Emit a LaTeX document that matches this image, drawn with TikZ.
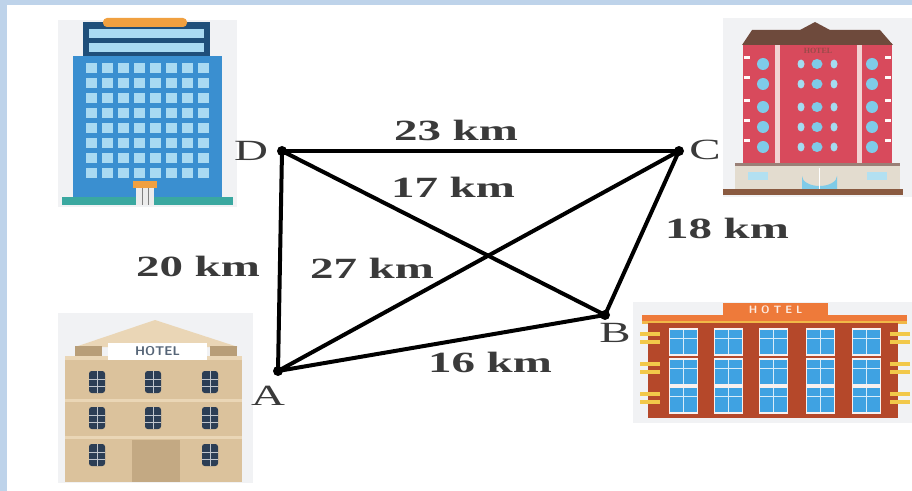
\documentclass[tikz,border=0pt]{standalone}
\usepackage{fontspec}
\setmainfont{Liberation Serif}
\usetikzlibrary{calc}
\definecolor{frameblue}{HTML}{BED3EA}
\definecolor{panel}{HTML}{F1F2F4}
\definecolor{txt}{HTML}{3A3A3A}
% tower
\definecolor{towerblue}{HTML}{3A8FD0}
\definecolor{towernavy}{HTML}{1F4F7A}
\definecolor{towerwin}{HTML}{A9DAF2}
\definecolor{towerteal}{HTML}{3AA8A0}
\definecolor{signorange}{HTML}{F0A040}
% red hotel
\definecolor{redwall}{HTML}{D84A5C}
\definecolor{roofbrown}{HTML}{6E4A3C}
\definecolor{pilaster}{HTML}{F2D2D2}
\definecolor{glass}{HTML}{7FCBE8}
\definecolor{basecream}{HTML}{E3DCCF}
\definecolor{ground}{HTML}{8A5A40}
% beige hotel
\definecolor{tan}{HTML}{DBC29C}
\definecolor{tanlight}{HTML}{EAD6B6}
\definecolor{tandark}{HTML}{B89E78}
\definecolor{winnavy}{HTML}{2C3E55}
% brick hotel
\definecolor{brick}{HTML}{B5482A}
\definecolor{brickorange}{HTML}{EE7A3A}
\definecolor{brickwin}{HTML}{3FA2E2}
\definecolor{balcony}{HTML}{F2C84A}
\tikzset{
  edge/.style={line width=3pt, line cap=round},
  vertex/.style={circle, fill=black, inner sep=0pt, minimum size=7.5pt},
  dist/.style={text=txt, font=\fontsize{22}{24}\selectfont\bfseries, xscale=1.6, inner sep=0pt},
  letter/.style={text=txt, font=\fontsize{22}{24}\selectfont, xscale=1.6, inner sep=0pt},
}
\begin{document}
\begin{tikzpicture}[x=0.75pt, y=-0.75pt]
\useasboundingbox (0,0) rectangle (912,491);
\fill[white] (0,0) rectangle (912,491);
% frame
\fill[frameblue] (0,0) rectangle (912,5);
\fill[frameblue] (0,0) rectangle (7,491);

% ---------- blue office tower ----------
\fill[panel] (58,20) rectangle (237,207);
\fill[towernavy] (83,22) rectangle (210,57);
\fill[towerwin] (89,29) rectangle (204,38);
\fill[towerwin] (89,43) rectangle (204,52);
\fill[signorange, rounded corners=3pt] (103,18) rectangle (187,27);
\fill[towerblue] (73,56) rectangle (222,198);
\foreach \i in {0,...,7}{
  \foreach \j in {0,...,7}{
    \fill[towerwin] ({86+\i*16},{63+\j*15}) rectangle ({97+\i*16},{73+\j*15});
  }
}
\fill[towerteal] (62,197) rectangle (233,205);
\fill[white!85!gray] (136,186) rectangle (154,205);
\draw[gray, line width=0.6pt] (142,188) -- (142,205) (148,188) -- (148,205);
\fill[signorange] (133,181) rectangle (157,188);

% ---------- red hotel ----------
\fill[panel] (723,18) rectangle (912,197);
\fill[redwall] (743,43) rectangle (892,165);
\fill[roofbrown] (742,45) -- (752,30) -- (800,30) -- (815,22) -- (830,30) -- (880,30) -- (893,45) -- cycle;
\fill[pilaster] (775,45) rectangle (780,165);
\fill[pilaster] (857,45) rectangle (862,165);
\node[text=roofbrown!60!redwall, font=\fontsize{6}{6}\selectfont\bfseries, inner sep=0pt] (hsign) at (818,51) {HOTEL};
\foreach \y in {64,84,107,127,147}{
  \fill[glass] (763,\y) ellipse (6 and 6);
  \fill[glass] (872,\y) ellipse (6 and 6);
  \fill[glass] (817,\y) ellipse (5.5 and 5);
  \fill[glass!70!white] (801,\y) ellipse (3.5 and 4.5);
  \fill[glass!70!white] (834,\y) ellipse (3.5 and 4.5);
  \fill[white!90!pink] (744,{\y-8}) rectangle (750,{\y-5});
  \fill[white!90!pink] (885,{\y-8}) rectangle (891,{\y-5});
}
\fill[basecream] (735,163) rectangle (900,189);
\fill[roofbrown!70] (735,163) rectangle (900,166);
\fill[glass!60!white] (748,172) rectangle (768,180);
\fill[glass!60!white] (867,172) rectangle (887,180);
\fill[glass] (802,189) -- (802,176) arc[start angle=180, end angle=0, x radius=17.5, y radius=10] -- (837,189) -- cycle;
\draw[white, line width=0.8pt] (819.5,168) -- (819.5,189);
\fill[ground] (723,189) rectangle (903,195);

% ---------- beige hotel ----------
\fill[panel] (58,313) rectangle (253,483);
\fill[tanlight] (75,347) -- (155,320) -- (238,347) -- cycle;
\fill[tan] (65,356) rectangle (242,482);
\fill[tandark] (75,346) rectangle (102,358);
\fill[tandark] (210,346) rectangle (237,358);
\fill[tanlight] (65,356) rectangle (242,360);
\fill[white] (108,343) rectangle (207,360);
\node[text=winnavy!80, font=\sffamily\fontsize{9.5}{10}\selectfont\bfseries, inner sep=0pt] (bsign) at (157.5,351.5) {HOTEL};
\fill[tanlight] (65,399) rectangle (242,402);
\fill[tanlight] (65,436) rectangle (242,439);
\fill[tandark!70!tan] (132,440) rectangle (180,482);
\foreach \x/\y in {97/382,153/382,210/382,97/418,153/418,210/418,97/455,210/455}{
  \fill[winnavy, rounded corners=2pt] ({\x-8},{\y-11}) rectangle ({\x+8},{\y+11});
  \draw[white!70!winnavy, line width=0.5pt] (\x,{\y-11}) -- (\x,{\y+11});
  \draw[white!70!winnavy, line width=0.5pt] ({\x-8},{\y-3}) -- ({\x+8},{\y-3});
  \draw[white!70!winnavy, line width=0.5pt] ({\x-8},{\y+4}) -- ({\x+8},{\y+4});
}

% ---------- brick hotel ----------
\fill[panel] (633,302) rectangle (912,423);
\fill[brickorange] (723,303) rectangle (828,316);
\node[text=white!85!brickorange, font=\sffamily\fontsize{8}{8}\selectfont\bfseries, inner sep=0pt] (rsign) at (775.5,309.5) {H O T E L};
\fill[brickorange] (642,315) rectangle (907,323);
\fill[balcony!80!brickorange] (642,321) rectangle (907,324);
\fill[brick] (648,323) rectangle (898,418);
\foreach \x in {670,715,760,807,853}{
  \foreach \y in {330,360,388}{
    \fill[white!92!brick] ({\x-1},{\y-2}) rectangle ({\x+28},{\y+26});
    \fill[brickwin] (\x,\y) rectangle ({\x+27},{\y+24});
    \draw[white!80!brickwin, line width=0.6pt] ({\x+13.5},\y) -- ({\x+13.5},{\y+24});
    \draw[white!80!brickwin, line width=0.6pt] (\x,{\y+8}) -- ({\x+27},{\y+8});
  }
}
\foreach \y in {332,362,392}{
  \fill[balcony] (640,\y) rectangle (660,{\y+4});
  \fill[balcony] (640,{\y+8}) rectangle (660,{\y+12});
  \fill[balcony] (890,\y) rectangle (910,{\y+4});
  \fill[balcony] (890,{\y+8}) rectangle (910,{\y+12});
}

% ---------- road network ----------
\node[vertex] (D) at (282,151) {};
\node[vertex] (C) at (679,151) {};
\node[vertex] (B) at (605,315) {};
\node[vertex] (A) at (278,371) {};
\draw[edge] (D.center) -- (C.center);
\draw[edge] (D.center) -- (A.center);
\draw[edge] (A.center) -- (B.center);
\draw[edge] (B.center) -- (C.center);
\draw[edge] (A.center) -- (C.center);
\draw[edge] (D.center) -- (B.center);

% vertex letters
\node[letter] (lD) at (251,151) {D};
\node[letter] (lC) at (705,150) {C};
\node[letter] (lB) at (615,333) {B};
\node[letter] (lA) at (268,396) {A};

% distances
\node[dist] (dDC) at (456,130) {23 km};
\node[dist] (dDB) at (453,187) {17 km};
\node[dist] (dBC) at (727,228) {18 km};
\node[dist] (dDA) at (198,266) {20 km};
\node[dist] (dAC) at (372,268) {27 km};
\node[dist] (dAB) at (490,362) {16 km};
\end{tikzpicture}
\end{document}
